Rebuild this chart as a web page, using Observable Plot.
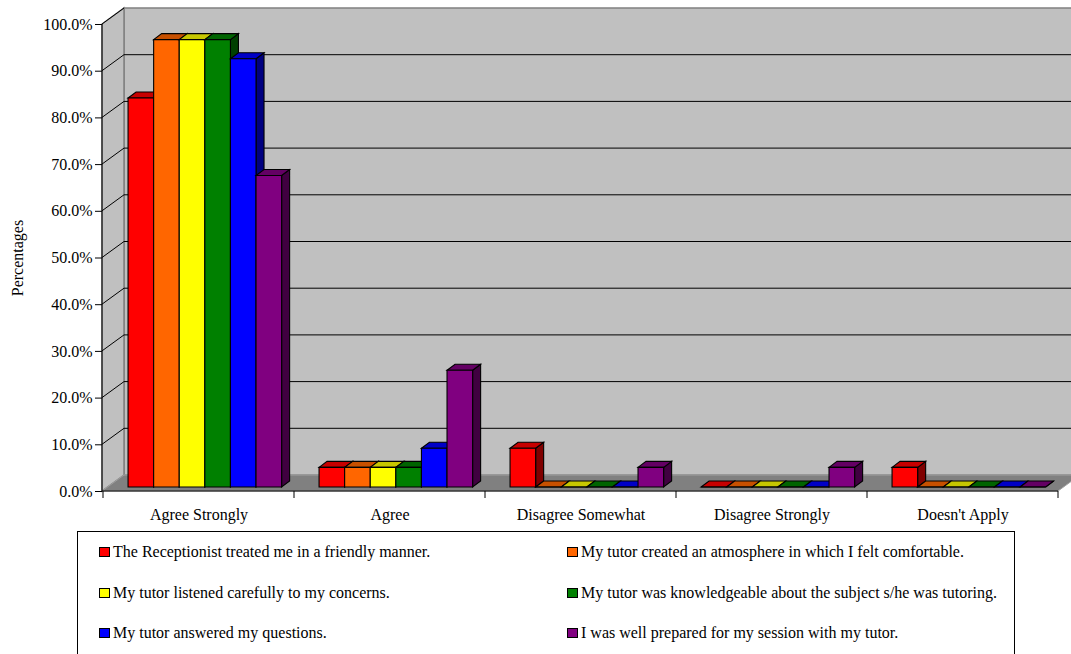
<!DOCTYPE html>
<html>
<head>
<meta charset="utf-8">
<script src="https://cdn.jsdelivr.net/npm/d3@7"></script>
<script src="https://cdn.jsdelivr.net/npm/@observablehq/plot@0.6"></script>
<style>
  body { margin: 0; background: #fff; }
  #wrap { position: relative; width: 1071px; height: 654px; overflow: hidden; font-family: "Liberation Serif", "Times New Roman", serif; }
  #legend { position: absolute; left: 77px; top: 531px; width: 938px; height: 140px; border: 1px solid #000; box-sizing: border-box; }
  .item { position: absolute; display: flex; align-items: center; height: 20px; font-size: 16px; line-height: 20px; color: #000; white-space: nowrap; }
  .sw { display: inline-block; width: 11px; height: 10px; border: 1px solid #000; box-sizing: border-box; margin-right: 3px; }
</style>
</head>
<body>
<div id="wrap">
  <div id="chart"></div>
  <div id="legend"></div>
</div>
<script>
// ---- data ----
const categories = ["Agree Strongly", "Agree", "Disagree Somewhat", "Disagree Strongly", "Doesn't Apply"];
const seriesNames = [
  "The Receptionist treated me in a friendly manner.",
  "My tutor created an atmosphere in which I felt comfortable.",
  "My tutor listened carefully to my concerns.",
  "My tutor was knowledgeable about the subject s/he was tutoring.",
  "My tutor answered my questions.",
  "I was well prepared for my session with my tutor."
];
const seriesColors = ["#ff0000", "#ff6600", "#ffff00", "#008000", "#0000ff", "#800080"];
const receptionist  = [83.3, 4.2, 8.3, 0, 4.2];
const atmosphere    = [95.8, 4.2, 0, 0, 0];
const listened      = [95.8, 4.2, 0, 0, 0];
const knowledgeable = [95.8, 4.2, 0, 0, 0];
const answered      = [91.7, 8.3, 0, 0, 0];
const prepared      = [66.7, 25.0, 4.2, 4.2, 0];
const yTicks = [0, 10, 20, 30, 40, 50, 60, 70, 80, 90, 100];
const yTitle = "Percentages";

const seriesValues = [receptionist, atmosphere, listened, knowledgeable, answered, prepared];
const rows = categories.flatMap((c, i) =>
  seriesValues.map((vals, j) => ({category: c, series: j, value: vals[i]})));

function shade(c, k) {
  const r = d3.rgb(c);
  return d3.rgb(r.r * k, r.g * k, r.b * k).formatHex();
}

// 3D walls, floor and bars drawn through Plot's scales
function threeD(index, scales, values, dims) {
  const x = scales.x, y = scales.y;
  const W = dims.width, left = dims.marginLeft, right = dims.width - dims.marginRight;
  const y0 = y(0), yTop = y(100);
  const wdx = 22, wdy = -16;
  const g = d3.create("svg:g");
  const poly = (pts, fill, stroke, sw) => g.append("polygon")
    .attr("points", pts.map(p => p.join(",")).join(" "))
    .attr("fill", fill).attr("stroke", stroke).attr("stroke-width", sw == null ? 1 : sw)
    .attr("stroke-linejoin", "miter");
  const line = (x1, y1, x2, y2, stroke, sw) => g.append("line")
    .attr("x1", x1).attr("y1", y1).attr("x2", x2).attr("y2", y2)
    .attr("stroke", stroke).attr("stroke-width", sw == null ? 1 : sw);

  // back wall
  g.append("rect").attr("x", left + wdx).attr("y", yTop + wdy)
    .attr("width", W - left - wdx + 10).attr("height", y0 - yTop)
    .attr("fill", "#c0c0c0").attr("stroke", "#808080").attr("stroke-width", 1.5);
  // left wall
  poly([[left, yTop], [left + wdx, yTop + wdy], [left + wdx, y0 + wdy], [left, y0]], "#c0c0c0", "#808080", 1.5);
  // gridlines
  for (const t of yTicks) {
    const yy = y(t);
    if (t > 0 && t < 100) line(left + wdx, yy + wdy, W + 5, yy + wdy, "#000", 1);
    if (t > 0) line(left, yy, left + wdx, yy + wdy, "#000", 1);
  }
  // floor
  poly([[left, y0], [right, y0], [right + wdx, y0 + wdy], [left + wdx, y0 + wdy]], "#808080", "#a0a0a0", 1);
  // front axis lines
  line(left, yTop, left, y0, "#000", 1);
  line(left, y0, right, y0, "#000", 1.2);
  // category boundary ticks
  const bounds = categories.map(c => x(c)).concat([right]);
  for (const b of bounds) line(b, y0, b, y0 + 7, "#000", 1);

  // bars
  const B = x.bandwidth();
  const bw = B * 0.134, off = B * 0.105, bdx = 5, bdy = -4, d = 8, e = -6;
  for (const r of rows) {
    const col = seriesColors[r.series];
    const xl = x(r.category) + off + r.series * bw + bdx, xr = xl + bw;
    const yt = y(r.value) + bdy, yb = y0 + bdy;
    poly([[xr, yt], [xr + d, yt + e], [xr + d, yb + e], [xr, yb]], shade(col, 0.5), "#000", 1.1);
    poly([[xl, yt], [xr, yt], [xr + d, yt + e], [xl + d, yt + e]], shade(col, 0.78), "#000", 1.1);
    poly([[xl, yt], [xr, yt], [xr, yb], [xl, yb]], col, "#000", 1.1);
  }
  return g.node();
}

const chart = Plot.plot({
  width: 1071,
  height: 528,
  marginLeft: 102,
  marginRight: 13,
  marginTop: 24,
  marginBottom: 37,
  x: {type: "band", domain: categories, padding: 0},
  y: {domain: [0, 100]},
  style: {fontFamily: "'Liberation Serif', 'Times New Roman', serif", fontSize: "16px", color: "#000", background: "#fff", overflow: "visible"},
  marks: [
    threeD,
    Plot.axisY(yTicks, {tickFormat: d => d.toFixed(1) + "%", tickSize: 7, tickPadding: 3, label: null, fontSize: 16}),
    Plot.axisX({tickSize: 0, tickPadding: 17, label: null, fontSize: 16}),
    Plot.text([yTitle], {text: d => d, y: () => 50, frameAnchor: "left", textAnchor: "middle", lineAnchor: "middle", rotate: -90, dx: -85, fontSize: 16})
  ]
});
document.getElementById("chart").appendChild(chart);

// legend
const legend = document.getElementById("legend");
const colX = [21, 489];
const rowY = [20, 61, 101];
seriesNames.forEach((name, i) => {
  const it = document.createElement("div");
  it.className = "item";
  it.style.left = colX[i % 2] + "px";
  it.style.top = (rowY[Math.floor(i / 2)] - 10) + "px";
  const sw = document.createElement("span");
  sw.className = "sw";
  sw.style.background = seriesColors[i];
  it.appendChild(sw);
  it.appendChild(document.createTextNode(name));
  legend.appendChild(it);
});
</script>
</body>
</html>
